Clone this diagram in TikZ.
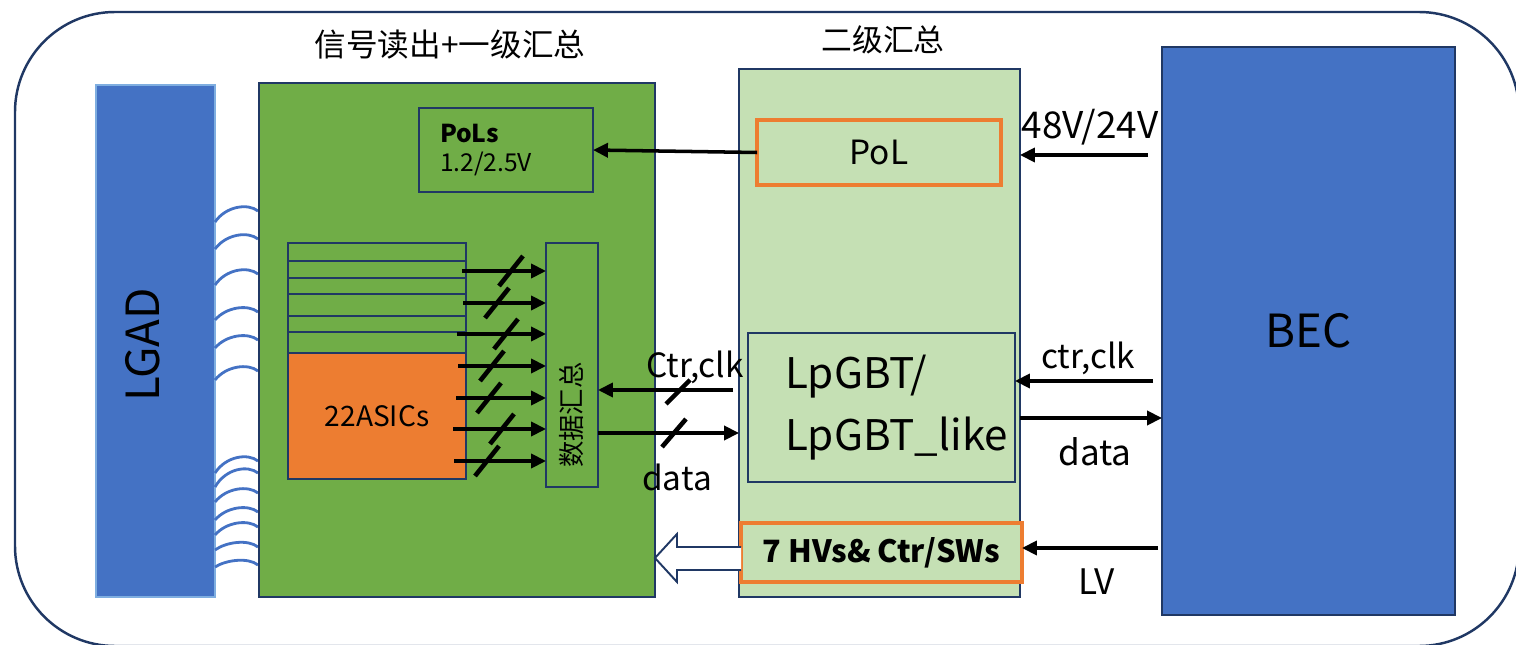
\documentclass[tikz,border=0pt]{standalone}
\usepackage{fontspec}
\setmainfont{Noto Sans CJK SC}
\usetikzlibrary{arrows.meta}
\definecolor{navy}{HTML}{203864}
\definecolor{detblue}{HTML}{4472C4}
\definecolor{edgeblue}{HTML}{7FAEE0}
\definecolor{boardgreen}{HTML}{70AD47}
\definecolor{palegreen}{HTML}{C5E0B4}
\definecolor{asicorange}{HTML}{ED7D31}
\newcommand{\fsz}[1]{\fontsize{#1}{1.2\dimexpr#1\relax}\selectfont}

\begin{document}
\begin{tikzpicture}[x=0.02cm,y=-0.02cm,>={Triangle[length=8.5pt,width=8pt]},
  box/.style={draw=navy,line width=1.1pt,inner sep=0pt,outer sep=0pt},
  greenbox/.style={box,fill=boardgreen},
  palebox/.style={box,fill=palegreen},
  orangebox/.style={draw=asicorange,line width=2pt,fill=palegreen,inner sep=0pt,outer sep=0pt},
  sig/.style={->,line width=2pt},
  slash/.style={line width=2.6pt},
  wire/.style={detblue,line width=1.6pt},
  lbl/.style={font=\fsz{19pt}}]
\useasboundingbox (0,0) rectangle (1516,645);
\draw[navy,line width=1.4pt,rounded corners=2cm] (15,12) rectangle (1519,646);

% detector and bonding wires
\node[fill=detblue,draw=edgeblue,line width=1pt,minimum width=2.38cm,minimum height=10.24cm] (lgad) at (155.5,341) {};
\node[rotate=90,font=\fsz{26pt}] (lgadtxt) at (143,345) {LGAD};
\foreach \yl/\yr in {222/211,249/239,285/274,320/312,348/340,380/371,
                     473/461,487/473,502/493,520/512,535/527,550/547,567/565}
  \draw[wire] (215,\yl) .. controls (226,\yr-5) and (248,\yr-8) .. (258,\yr);

% readout board
\node[greenbox,minimum width=7.92cm,minimum height=10.28cm] (rd) at (457,340) {};
\node[font=\fsz{18pt}] (rdtitle) at (450,45) {信号读出+一级汇总};
\node[greenbox,minimum width=3.48cm,minimum height=1.68cm,align=left,text width=2.64cm,inner xsep=0.42cm,
  font=\fsz{14pt}] (pols) at (506,150) {\textbf{PoLs}\\1.2/2.5V};
\foreach \t in {243,261,278,294,316,332}
  \draw[navy,line width=1.1pt] (288,\t) rectangle (466,479);
\node[box,fill=asicorange,minimum width=3.56cm,minimum height=2.52cm,font=\fsz{16pt}] (asic) at (377,416) {22ASICs};
\node[greenbox,minimum width=1.04cm,minimum height=4.88cm] (sum) at (572,365) {};
\node[rotate=90,font=\fsz{15pt}] (sumtxt) at (572,415) {数据汇总};
\foreach \y/\xs/\xc in {271/462/511,303/463/497,334/457/506,366/458/492,398/456/489,429/453/502,461/454/487}{
  \draw[sig] (\xs,\y) -- (sum.west |- 0,\y);
  \draw[slash] (\xc-12,\y+15) -- (\xc+12,\y-15);
}

% second level
\node[palebox,minimum width=5.62cm,minimum height=10.56cm] (agg) at (879.5,333) {};
\node[font=\fsz{17.5pt}] (aggtitle) at (883,40) {二级汇总};
\node[orangebox,minimum width=4.88cm,minimum height=1.3cm,font=\fsz{19pt}] (pol) at (879,152.5) {PoL\hspace{0.4cm}};
\node[palebox,minimum width=5.34cm,minimum height=2.98cm,align=left,text width=3.86cm,inner xsep=0.74cm,
  font=\fontsize{24pt}{35pt}\selectfont] (lpgbt) at (881.5,407.5) {LpGBT/\\LpGBT\_like};
\node[orangebox,minimum width=5.62cm,minimum height=1.18cm,font=\fsz{17.5pt}] (hv) at (881.5,552.5) {\textbf{7 HVs\& Ctr/SWs}};

% back-end
\node[box,fill=detblue,minimum width=5.86cm,minimum height=11.36cm,font=\fsz{26pt}] (bec) at (1308.5,331) {BEC};

% links
\draw[sig] (pol.west) -- (pols.east);
\draw[sig] (733,390) -- (sum.east |- 0,390);
\draw[slash] (666,404) -- (690,380);
\node[lbl] (ctrl) at (695,367) {Ctr,clk};
\draw[sig] (sum.east |- 0,433) -- (agg.west |- 0,433);
\draw[slash] (662,447) -- (686,419);
\node[lbl] (datal) at (677,477) {data};
\draw[navy,line width=1.1pt,fill=white] (hv.west |- 0,547) -- (677,547) -- (677,534) -- (rd.east |- 0,558)
  -- (677,582) -- (677,570) -- (hv.west |- 0,570);

\draw[sig] (1148,155) -- (agg.east |- 0,155);
\node[lbl,font=\fsz{21pt}] (hvin) at (1090,127) {48V/24V};
\draw[sig] (1153,381) -- (lpgbt.east |- 0,381);
\node[lbl] (ctrr) at (1088,358) {ctr,clk};
\draw[sig] (agg.east |- 0,418) -- (bec.west |- 0,418);
\node[lbl,font=\fsz{20pt}] (datar) at (1095,452) {data};
\draw[sig] (1158,548) -- (hv.east |- 0,548);
\node[lbl,font=\fsz{20pt}] (lv) at (1097,582) {LV};
\end{tikzpicture}
\end{document}
